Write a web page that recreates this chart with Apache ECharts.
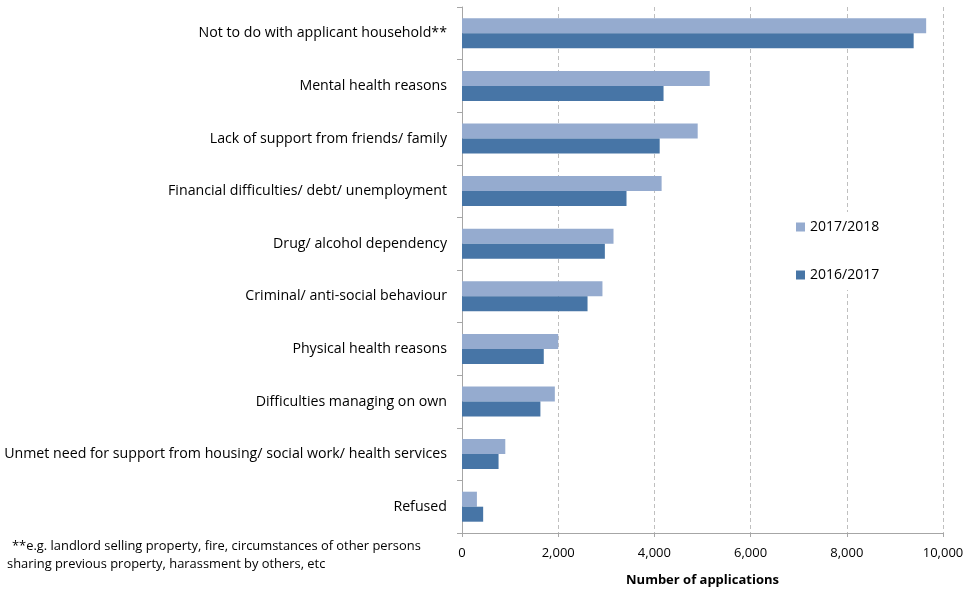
<!DOCTYPE html>
<html>
<head>
<meta charset="utf-8">
<script src="https://cdn.jsdelivr.net/npm/echarts@6/dist/echarts.min.js"></script>
<style>
  html, body { margin: 0; padding: 0; background: #fff; }
  #chart { width: 972px; height: 592px; }
</style>
</head>
<body>
<div id="chart"></div>
<script>
const categories = [
  "Not to do with applicant household**",
  "Mental health reasons",
  "Lack of support from friends/ family",
  "Financial difficulties/ debt/ unemployment",
  "Drug/ alcohol dependency",
  "Criminal/ anti-social behaviour",
  "Physical health reasons",
  "Difficulties managing on own",
  "Unmet need for support from housing/ social work/ health services",
  "Refused"
];
const values1718 = [9650, 5150, 4900, 4150, 3150, 2920, 2000, 1930, 900, 310];
const values1617 = [9390, 4190, 4110, 3420, 2970, 2610, 1700, 1630, 760, 440];
const xTicks = [0, 2000, 4000, 6000, 8000, 10000];
const footnote = [
  "**e.g. landlord selling property, fire, circumstances of other persons",
  "sharing previous property, harassment by others, etc"
];

const font = "'Open Sans', sans-serif";
const chart = echarts.init(document.getElementById("chart"));

chart.setOption({
  animation: false,
  textStyle: { fontFamily: font, color: "#000" },
  grid: { left: 462, right: 29, top: 7, bottom: 58 },
  legend: {
    orient: "vertical",
    left: 790,
    top: 212,
    icon: "rect",
    itemWidth: 9,
    itemHeight: 9,
    itemGap: 34,
    backgroundColor: "#fff",
    padding: [8, 6, 8, 6],
    textStyle: { fontSize: 14, color: "#000", fontFamily: font },
    data: ["2017/2018", "2016/2017"]
  },
  xAxis: {
    type: "value",
    min: xTicks[0],
    max: xTicks[xTicks.length - 1],
    interval: 2000,
    name: "Number of applications",
    nameLocation: "middle",
    nameGap: 41,
    nameTextStyle: { fontWeight: "bold", fontSize: 13, color: "#000", fontFamily: font },
    axisLine: { show: true, lineStyle: { color: "#a6a6a6" } },
    axisTick: { show: true, length: 4, lineStyle: { color: "#a6a6a6" } },
    axisLabel: {
      fontSize: 13, color: "#000", margin: 14,
      formatter: v => v.toLocaleString("en-GB")
    },
    splitLine: { show: true, lineStyle: { color: "#bfbfbf", type: [4, 3] } }
  },
  yAxis: {
    type: "category",
    inverse: true,
    data: categories,
    axisLine: { show: true, lineStyle: { color: "#a6a6a6" } },
    axisTick: { show: true, length: 5, lineStyle: { color: "#a6a6a6" } },
    axisLabel: { fontSize: 14.2, color: "#000", margin: 15 }
  },
  series: [
    {
      name: "2017/2018",
      type: "bar",
      data: values1718,
      itemStyle: { color: "#95abcf" },
      barWidth: 15,
      barGap: "0%",
      barCategoryGap: "43%"
    },
    {
      name: "2016/2017",
      type: "bar",
      data: values1617,
      itemStyle: { color: "#4775a6" },
      barWidth: 15,
      barGap: "0%",
      barCategoryGap: "43%"
    }
  ],
  graphic: footnote.map((t, i) => ({
    type: "text",
    left: i === 0 ? 12 : 7,
    top: 540 + i * 17.5,
    style: { text: t, fontSize: 12.9, fill: "#000", fontFamily: font }
  }))
});
</script>
</body>
</html>
